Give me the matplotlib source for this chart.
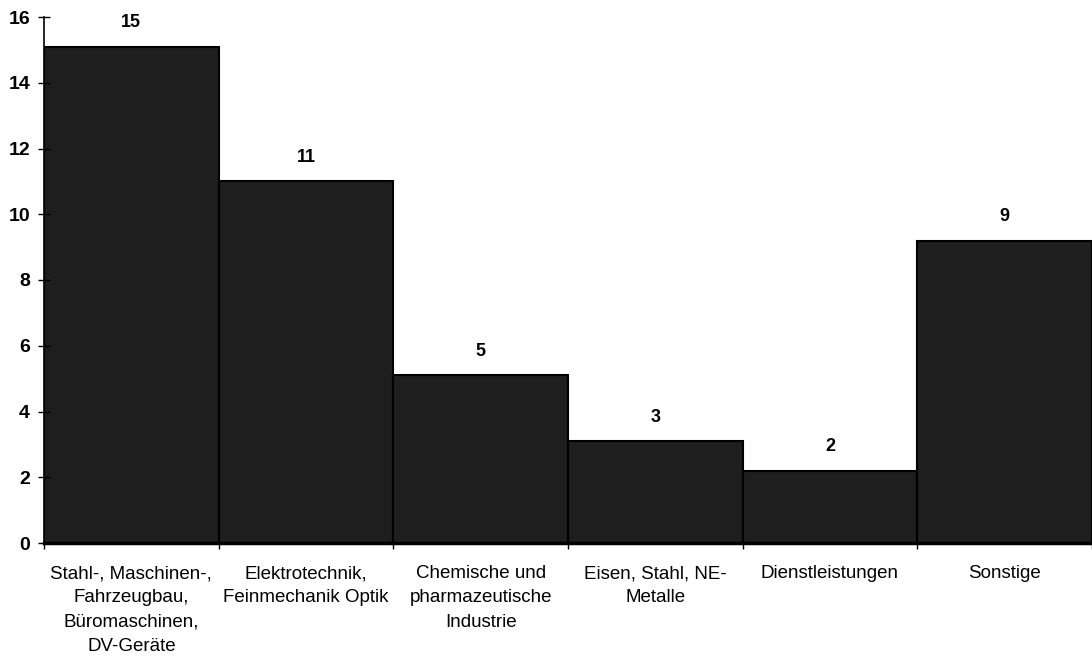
import matplotlib
matplotlib.use('Agg')
from matplotlib import pyplot as plt
import numpy as np

plt.rcParams['font.family'] = ['Liberation Sans', 'DejaVu Sans']

# data
categories = [
    'Stahl-, Maschinen-,\nFahrzeugbau,\nBüromaschinen,\nDV-Geräte',
    'Elektrotechnik,\nFeinmechanik Optik',
    'Chemische und\npharmazeutische\nIndustrie',
    'Eisen, Stahl, NE-\nMetalle',
    'Dienstleistungen',
    'Sonstige',
]
values = [15.1, 11.0, 5.1, 3.1, 2.2, 9.2]
value_labels = ['15', '11', '5', '3', '2', '9']
y_ticks = [0, 2, 4, 6, 8, 10, 12, 14, 16]

fig = plt.figure(figsize=(10.92, 6.63), dpi=100)
ax = fig.add_axes([44 / 1092, 1 - 543 / 663, 1 - 44 / 1092, (543 - 17) / 663])

x = np.arange(len(values)) + 0.5
bars = ax.bar(x, values, width=1.0, color='#1e1e1e', edgecolor='black', linewidth=1.5)

for rect, lab in zip(bars, value_labels):
    ax.annotate(lab, (rect.get_x() + rect.get_width() / 2, rect.get_height()),
                xytext=(0, 11), textcoords='offset points',
                ha='center', va='bottom', fontsize=13, fontweight='bold')

ax.set_xlim(0, len(values))
ax.set_ylim(0, 16)

# ticks at the bar boundaries, labels under the bar centres
ax.set_xticks(np.arange(len(values) + 1))
ax.set_xticklabels([])
ax.set_xticks(x, minor=True)
ax.set_xticklabels(categories, minor=True, fontsize=13.5, linespacing=1.55,
                   multialignment='center')
ax.tick_params(axis='x', which='major', direction='out', length=4, width=1)
ax.tick_params(axis='x', which='minor', length=0, pad=16)

ax.set_yticks(y_ticks)
ax.set_yticklabels([str(t) for t in y_ticks], fontsize=14, fontweight='bold')
ax.tick_params(axis='y', direction='inout', length=8, width=1, pad=6)

ax.spines['top'].set_visible(False)
ax.spines['right'].set_visible(False)
ax.spines['left'].set_linewidth(1.2)
ax.spines['bottom'].set_linewidth(2.5)

plt.savefig('out.png', dpi=100)
